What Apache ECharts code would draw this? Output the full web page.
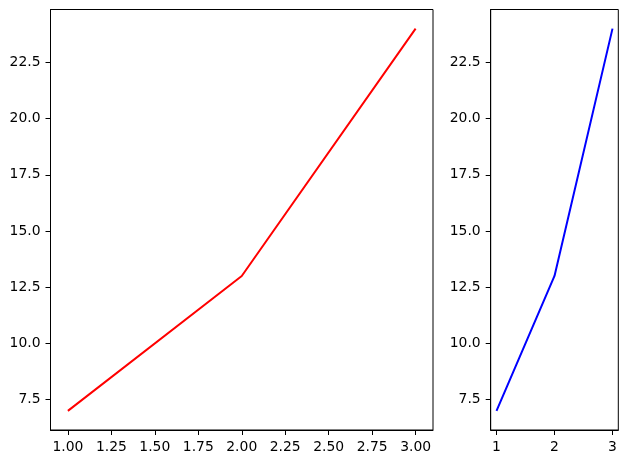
<!DOCTYPE html>
<html>
<head>
<meta charset="utf-8">
<script src="https://cdn.jsdelivr.net/npm/echarts@6/dist/echarts.min.js"></script>
<style>html,body{margin:0;padding:0;background:#fff}#c{width:627px;height:464px}</style>
</head>
<body>
<div id="c"></div>
<script>
const xValues = [1, 2, 3];
const yValues = [7, 13, 24];
const leftXTicks = [1.00, 1.25, 1.50, 1.75, 2.00, 2.25, 2.50, 2.75, 3.00];
const rightXTicks = [1, 2, 3];
const yTicks = [7.5, 10.0, 12.5, 15.0, 17.5, 20.0, 22.5];

const font = 'DejaVu Sans';
const fs = 13.9;
function xAxis(idx, ticks, dec) {
  return {
    type: 'value', gridIndex: idx, min: 0.9, max: 3.1,
    axisLine: {show: true, onZero: false, lineStyle: {color: '#000', width: 1}},
    axisTick: {show: true, inside: false, length: 5, customValues: ticks, lineStyle: {color: '#000', width: 1}},
    axisLabel: {show: true, customValues: ticks, color: '#000', fontFamily: font, fontSize: fs, margin: 10,
      formatter: v => v.toFixed(dec)},
    splitLine: {show: false}
  };
}
function yAxis(idx) {
  return {
    type: 'value', gridIndex: idx, min: 6.15, max: 24.85,
    axisLine: {show: true, onZero: false, lineStyle: {color: '#000', width: 1}},
    axisTick: {show: true, inside: false, length: 5, customValues: yTicks, lineStyle: {color: '#000', width: 1}},
    axisLabel: {show: true, customValues: yTicks, color: '#000', fontFamily: font, fontSize: fs, margin: 10,
      formatter: v => v.toFixed(1)},
    splitLine: {show: false}
  };
}
const chart = echarts.init(document.getElementById('c'), null, {renderer: 'canvas'});
chart.setOption({
  animation: false,
  backgroundColor: '#fff',
  grid: [
    {left: 50.5, top: 9.5, width: 382.5, height: 420.5, show: true, borderColor: '#000', borderWidth: 1, backgroundColor: 'transparent'},
    {left: 490.7, top: 9.5, width: 127.6, height: 420.5, show: true, borderColor: '#000', borderWidth: 1, backgroundColor: 'transparent'}
  ],
  xAxis: [xAxis(0, leftXTicks, 2), xAxis(1, rightXTicks, 0)],
  yAxis: [yAxis(0), yAxis(1)],
  series: [
    {type: 'line', xAxisIndex: 0, yAxisIndex: 0, data: xValues.map((x, i) => [x, yValues[i]]),
      showSymbol: false, lineStyle: {color: '#ff0000', width: 2}},
    {type: 'line', xAxisIndex: 1, yAxisIndex: 1, data: xValues.map((x, i) => [x, yValues[i]]),
      showSymbol: false, lineStyle: {color: '#0000ff', width: 2}}
  ]
});
</script>
</body>
</html>
